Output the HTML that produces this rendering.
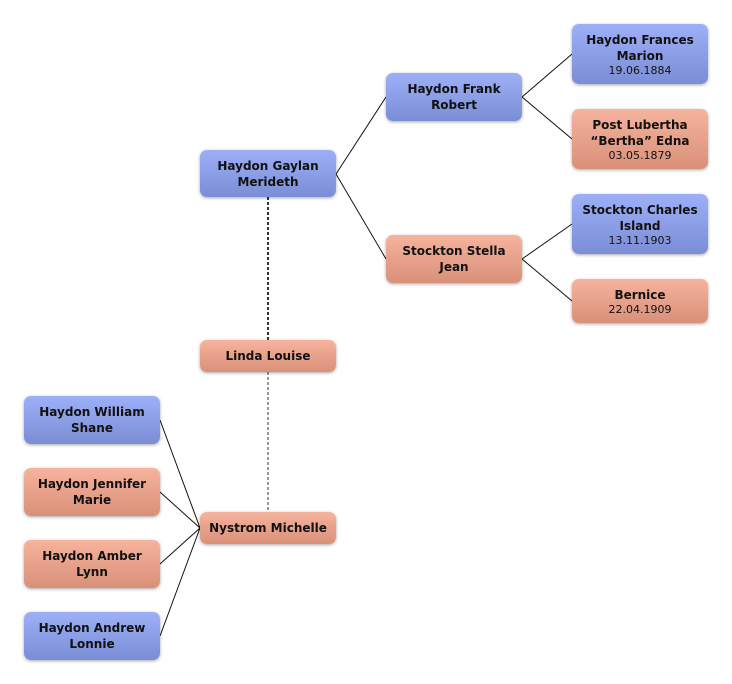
<!DOCTYPE html>
<html><head><style>
body{margin:0;width:732px;height:684px;background:#fff;position:relative;font-family:"DejaVu Sans","Liberation Sans",sans-serif;}
.b{position:absolute;width:136px;border-radius:7px;box-shadow:0 1px 3px rgba(0,0,0,.35);display:flex;flex-direction:column;justify-content:center;align-items:center;text-align:center;font-size:12px;font-weight:bold;color:#111;line-height:16px;box-sizing:border-box;}
.m{background:linear-gradient(#9daff7,#7b8ed5);}
.f{background:linear-gradient(#f6b39d,#d99079);}
.d{font-weight:normal;font-size:11px;line-height:13px;}
svg{position:absolute;left:0;top:0;}
</style></head><body>
<svg width="732" height="684">
<g stroke="#111" stroke-width="1" fill="none">
<path d="M336 174L386 97M336 174L386 259M522 97L572 54M522 97L572 139M522 259L572 224M522 259L572 301"/>
<path d="M160 420L200 528M160 492L200 528M160 564L200 528M160 636L200 528"/>
<path d="M268 197V340" stroke-dasharray="3,2" stroke-width="2" stroke="#333"/>
<path d="M268 372V512" stroke-dasharray="3,2" stroke-width="1.5" stroke="#777"/>
</g></svg>
<div class="b m" style="left:200px;top:150px;height:47px">Haydon Gaylan<br>Merideth</div>
<div class="b m" style="left:386px;top:73px;height:48px">Haydon Frank<br>Robert</div>
<div class="b f" style="left:386px;top:235px;height:48px">Stockton Stella<br>Jean</div>
<div class="b m" style="left:572px;top:24px;height:60px">Haydon Frances<br>Marion<span class="d">19.06.1884</span></div>
<div class="b f" style="left:572px;top:109px;height:60px">Post Lubertha<br>“Bertha” Edna<span class="d">03.05.1879</span></div>
<div class="b m" style="left:572px;top:194px;height:60px">Stockton Charles<br>Island<span class="d">13.11.1903</span></div>
<div class="b f" style="left:572px;top:279px;height:44px">Bernice<span class="d">22.04.1909</span></div>
<div class="b f" style="left:200px;top:340px;height:32px">Linda Louise</div>
<div class="b f" style="left:200px;top:512px;height:32px">Nystrom Michelle</div>
<div class="b m" style="left:24px;top:396px;height:48px">Haydon William<br>Shane</div>
<div class="b f" style="left:24px;top:468px;height:48px">Haydon Jennifer<br>Marie</div>
<div class="b f" style="left:24px;top:540px;height:48px">Haydon Amber<br>Lynn</div>
<div class="b m" style="left:24px;top:612px;height:48px">Haydon Andrew<br>Lonnie</div>
</body></html>
